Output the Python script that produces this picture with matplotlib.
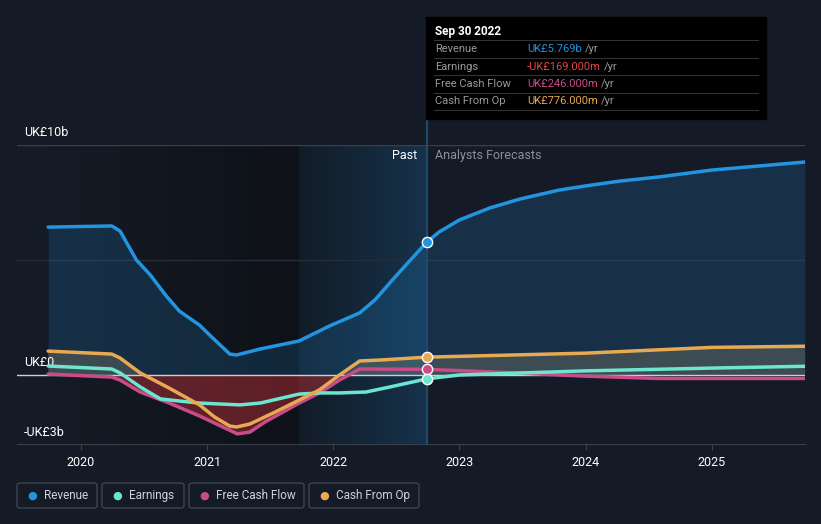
import matplotlib.pyplot as plt
import numpy as np
from matplotlib.patches import FancyBboxPatch, Rectangle
from matplotlib.colors import to_rgb

plt.rcParams['font.family'] = ['Roboto', 'DejaVu Sans']

# values in UK£ billions, x in decimal years
rev_x = [2019.74, 2020.245, 2020.31, 2020.44, 2020.55, 2020.67, 2020.78, 2020.94, 2021.02,
         2021.18, 2021.235, 2021.42, 2021.73, 2021.97, 2022.21, 2022.33, 2022.49, 2022.74,
         2022.84, 2023.0, 2023.24, 2023.48, 2023.79, 2024.0, 2024.27, 2024.58, 2025.0,
         2025.38, 2025.74]
rev_y = [6.43, 6.48, 6.26, 5.0, 4.35, 3.48, 2.78, 2.17, 1.74, 0.91, 0.87, 1.13, 1.48,
         2.13, 2.70, 3.26, 4.26, 5.769, 6.22, 6.74, 7.26, 7.65, 8.04, 8.22, 8.43, 8.61,
         8.91, 9.09, 9.26]

cfo_x = [2019.74, 2020.245, 2020.31, 2020.47, 2020.70, 2020.94, 2021.06, 2021.18, 2021.235,
         2021.34, 2021.54, 2021.73, 2021.89, 2022.05, 2022.21, 2022.37, 2022.74, 2024.0,
         2025.0, 2025.74]
cfo_y = [1.04, 0.91, 0.74, 0.09, -0.57, -1.30, -1.83, -2.22, -2.26, -2.13, -1.61, -1.09,
         -0.65, 0.0, 0.61, 0.65, 0.776, 0.95, 1.2, 1.25]

earn_x = [2019.74, 2020.245, 2020.31, 2020.47, 2020.63, 2020.78, 2020.94, 2021.26, 2021.42,
          2021.73, 2021.89, 2022.05, 2022.26, 2022.45, 2022.74, 2023.0, 2024.0, 2025.0,
          2025.74]
earn_y = [0.39, 0.26, 0.09, -0.52, -1.04, -1.13, -1.22, -1.30, -1.22, -0.83, -0.78, -0.78,
          -0.74, -0.52, -0.169, 0.0, 0.18, 0.3, 0.38]

fcf_x = [2019.74, 2020.245, 2020.31, 2020.47, 2020.70, 2020.94, 2021.14, 2021.24, 2021.34,
         2021.46, 2021.73, 2021.89, 2022.05, 2022.21, 2022.74, 2023.32, 2024.0, 2024.58,
         2025.74]
fcf_y = [0.04, -0.09, -0.22, -0.74, -1.22, -1.78, -2.30, -2.56, -2.48, -2.04, -1.22, -0.78,
         -0.22, 0.26, 0.246, 0.12, -0.05, -0.15, -0.15]

years = [2020, 2021, 2022, 2023, 2024, 2025]
now = 2022.74

BG = '#151b26'
C_REV = '#2394df'
C_EARN = '#6ce5d1'
C_FCF = '#c94b8a'
C_CFO = '#e8a952'


def hgrad(ax, xa, xb, c0, c1, z):
    a, b = np.array(to_rgb(c0)), np.array(to_rgb(c1))
    t = np.linspace(0, 1, 256)[None, :, None]
    img = a + (b - a) * t
    ax.imshow(img, extent=[xa, xb, -3, 10], aspect='auto', zorder=z, interpolation='bilinear')


fig = plt.figure(figsize=(8.21, 5.24), dpi=100, facecolor=BG)
ax = fig.add_axes([17 / 821, 1 - 444 / 524, (805 - 17) / 821, (444 - 145) / 524])
ax.set_facecolor(BG)
x0 = 2020 + (17 - 81) / 126.3
x1 = 2025.74

# past background: darkening gradient, then highlighted band
hgrad(ax, 2019.74, 2021.73, '#151b26', '#0e1117', 0)
hgrad(ax, 2021.73, now, '#121c27', '#16324b', 0)
ax.set_xlim(x0, x1)
ax.set_ylim(-3, 10)

# gridlines
ax.axhline(10, color='#3a404a', lw=1, zorder=1)
ax.axhline(5, color='#262d38', lw=1, zorder=1)

# fills
ax.fill_between(rev_x, rev_y, 0, color=C_REV, alpha=0.18, lw=0, zorder=2)
ax.fill_between(cfo_x, cfo_y, 0, where=np.array(cfo_y) >= 0, interpolate=True,
                color='#c8b27a', alpha=0.22, lw=0, zorder=2)
fx = np.array(fcf_x)
fy = np.array(fcf_y)
ax.fill_between(fx, fy, 0, where=(fy <= 0) & (fx <= now), interpolate=True,
                color='#c0303a', alpha=0.45, lw=0, zorder=2)

# lines
for xs, ys, c in [(rev_x, rev_y, C_REV), (fcf_x, fcf_y, C_FCF),
                  (earn_x, earn_y, C_EARN), (cfo_x, cfo_y, C_CFO)]:
    ax.plot(xs, ys, color=c, lw=2.5, solid_capstyle='round', solid_joinstyle='round',
            zorder=4)

ax.axhline(0, color='#cfcfcf', lw=1, zorder=3)

# markers at the current point
for xs, ys, c in [(rev_x, rev_y, C_REV), (fcf_x, fcf_y, C_FCF),
                  (earn_x, earn_y, C_EARN), (cfo_x, cfo_y, C_CFO)]:
    v = np.interp(now, xs, ys)
    ax.scatter([now], [v], s=55, color=c, edgecolor='white', lw=1, zorder=6)

# vertical now line
ax.plot([now, now], [-3, 12.1], color='#1f4a6b', lw=1.5, zorder=3, clip_on=False)

ax.text(now - 0.07, 9.55, 'Past', color='white', fontsize=9, ha='right', va='center')
ax.text(now + 0.07, 9.55, 'Analysts Forecasts', color='#8a9099', fontsize=9,
        ha='left', va='center')

# y labels
ax.text(2019.55, 10.55, 'UK£10b', color='white', fontsize=9, ha='left', va='center')
ax.text(2019.55, 0.55, 'UK£0', color='white', fontsize=9, ha='left', va='center')
ax.text(2019.55, -2.5, '-UK£3b', color='white', fontsize=9, ha='left', va='center')

for s in ['top', 'right', 'left']:
    ax.spines[s].set_visible(False)
ax.spines['bottom'].set_color('#3a404a')
ax.set_yticks([])
ax.set_xticks(years)
ax.set_xticklabels([str(y) for y in years], color='white', fontsize=9)
ax.tick_params(axis='x', colors='#3a404a', length=4, labelcolor='white', pad=5)

# tooltip
fig.patches.append(Rectangle((426 / 821, 1 - 119 / 524), 340 / 821, 102 / 524,
                             transform=fig.transFigure, color='black', zorder=10))
fig.text(435 / 821, 1 - 31 / 524, 'Sep 30 2022', color='white', fontsize=8.5,
         fontweight='bold', va='center', zorder=11)
rows = [('Revenue', 'UK£5.769b', C_REV), ('Earnings', '-UK£169.000m', '#e64545'),
        ('Free Cash Flow', 'UK£246.000m', C_FCF), ('Cash From Op', 'UK£776.000m', C_CFO)]
for i, (lab, val, c) in enumerate(rows):
    yy = 49 + i * 17.5
    fig.add_artist(plt.Line2D([434 / 821, 758 / 821], [1 - (yy - 9) / 524] * 2,
                              color='#333333', lw=0.8, zorder=11))
    fig.text(435 / 821, 1 - yy / 524, lab, color='#9a9a9a', fontsize=8, va='center',
             zorder=11)
    t = fig.text(527 / 821, 1 - yy / 524, val, color=c, fontsize=8, va='center', zorder=11)
    fig.canvas.draw()
    bb = t.get_window_extent()
    fig.text((bb.x1 + 3) / 821, 1 - yy / 524, '/yr', color='#9a9a9a', fontsize=8,
             va='center', zorder=11)
fig.add_artist(plt.Line2D([434 / 821, 758 / 821], [1 - 110 / 524] * 2,
                          color='#333333', lw=0.8, zorder=11))

# legend boxes
legend = [('Revenue', C_REV, 17, 97), ('Earnings', C_EARN, 102, 184),
          ('Free Cash Flow', C_FCF, 189, 304), ('Cash From Op', C_CFO, 309, 419)]
for lab, c, xa, xb in legend:
    fig.patches.append(FancyBboxPatch((xa / 821, 1 - 508 / 524), (xb - xa) / 821, 25 / 524,
                                      boxstyle='round,pad=0,rounding_size=0.004',
                                      transform=fig.transFigure, facecolor=BG,
                                      edgecolor='#3e444e', lw=1))
    fig.text((xa + 15) / 821, 1 - 495.5 / 524, '●', color=c, fontsize=8, ha='center',
             va='center', family='DejaVu Sans')
    fig.text((xa + 27) / 821, 1 - 495.5 / 524, lab, color='#cfd2d6', fontsize=8.5,
             va='center')

fig.savefig('out.png', dpi=100, facecolor=BG)
